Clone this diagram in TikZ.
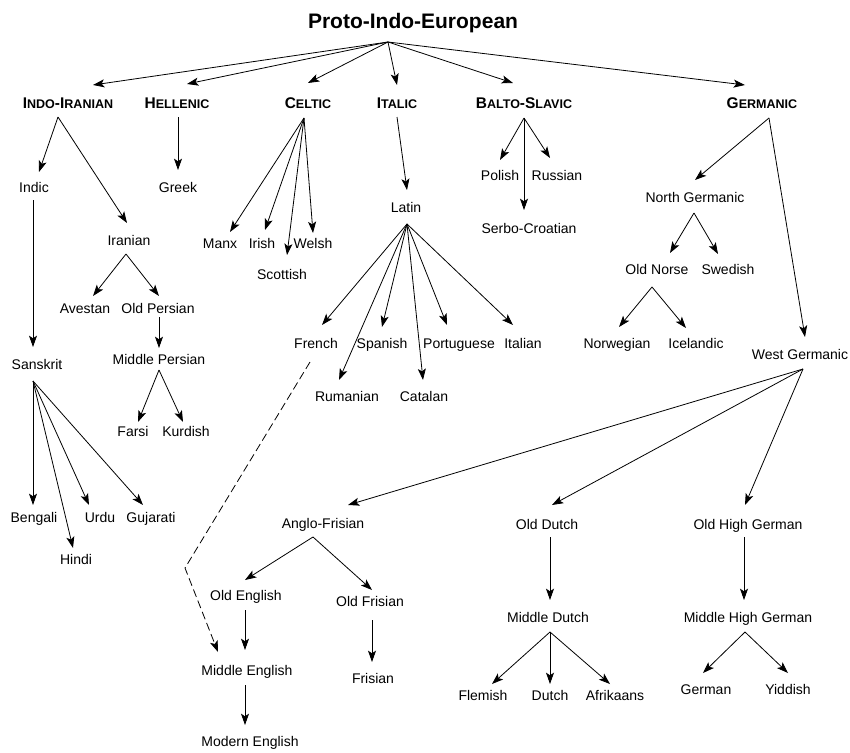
\documentclass[tikz,border=0pt]{standalone}
\usepackage{fontspec}
\setmainfont{Liberation Sans}
\usetikzlibrary{calc,arrows.meta}
\newcommand\hsc[1]{{\fontsize{9.4}{11}\selectfont #1}}
\tikzset{
  lbl/.style={inner sep=0pt, text height=7.5pt, text depth=0pt, font=\fontsize{10.5}{12}\selectfont},
  hd/.style={inner sep=0pt, text height=8.3pt, text depth=0pt, font=\bfseries\fontsize{11.6}{13}\selectfont},
  ttl/.style={inner sep=0pt, text height=11.3pt, text depth=0pt, font=\bfseries\fontsize{15.75}{18}\selectfont},
  arr/.style={line width=0.6pt, -{Stealth[length=8.5pt,width=6pt,inset=2pt]}},
  darr/.style={arr, dash pattern=on 6pt off 3pt}
}
\begin{document}
\begin{tikzpicture}[x=0.75pt,y=-0.75pt]
\useasboundingbox (0,0) rectangle (850,753);
% title
\node[ttl] (pie) at (413,21) {Proto-Indo-European};
% headings
\node[hd] (ii) at (68,103) {I\hsc{NDO}-I\hsc{RANIAN}};
\node[hd] (hel) at (177,103) {H\hsc{ELLENIC}};
\node[hd] (cel) at (308,103) {C\hsc{ELTIC}};
\node[hd] (ita) at (397,103) {I\hsc{TALIC}};
\node[hd] (bs) at (524,103) {B\hsc{ALTO}-S\hsc{LAVIC}};
\node[hd] (ger) at (762,103) {G\hsc{ERMANIC}};
% indo-iranian
\node[lbl] (indic) at (34,187) {Indic};
\node[lbl] (iran) at (129,240) {Iranian};
\node[lbl] (greek) at (178,187) {Greek};
\node[lbl] (aves) at (85,308) {Avestan};
\node[lbl] (oper) at (158,308) {Old Persian};
\node[lbl] (mper) at (159,359) {Middle Persian};
\node[lbl] (farsi) at (133,431) {Farsi};
\node[lbl] (kurd) at (186,431) {Kurdish};
\node[lbl] (sans) at (37,364) {Sanskrit};
\node[lbl] (beng) at (34,517) {Bengali};
\node[lbl] (hindi) at (76,559) {Hindi};
\node[lbl] (urdu) at (100,517) {Urdu};
\node[lbl] (guj) at (151,517) {Gujarati};
% celtic
\node[lbl] (manx) at (220,243) {Manx};
\node[lbl] (irish) at (262,243) {Irish};
\node[lbl] (welsh) at (313,243) {Welsh};
\node[lbl] (scot) at (282,274) {Scottish};
% italic
\node[lbl] (latin) at (406,207) {Latin};
\node[lbl] (french) at (316,343) {French};
\node[lbl] (span) at (382,343) {Spanish};
\node[lbl] (port) at (459,343) {Portuguese};
\node[lbl] (ital) at (523,343) {Italian};
\node[lbl] (rum) at (347,396) {Rumanian};
\node[lbl] (cat) at (424,396) {Catalan};
% balto-slavic
\node[lbl] (pol) at (500,175) {Polish};
\node[lbl] (rus) at (557,175) {Russian};
\node[lbl] (sc) at (529,228) {Serbo-Croatian};
% germanic
\node[lbl] (ng) at (695,197) {North Germanic};
\node[lbl] (on) at (657,269) {Old Norse};
\node[lbl] (swe) at (728,269) {Swedish};
\node[lbl] (nor) at (617,343) {Norwegian};
\node[lbl] (ice) at (696,343) {Icelandic};
\node[lbl] (wg) at (800,354) {West Germanic};
\node[lbl] (af) at (323,523) {Anglo-Frisian};
\node[lbl] (od) at (547,524) {Old Dutch};
\node[lbl] (ohg) at (748,524) {Old High German};
\node[lbl] (oe) at (246,595) {Old English};
\node[lbl] (ofr) at (370,601) {Old Frisian};
\node[lbl] (me) at (247,670) {Middle English};
\node[lbl] (fris) at (373,678) {Frisian};
\node[lbl] (mode) at (250,741) {Modern English};
\node[lbl] (md) at (548,617) {Middle Dutch};
\node[lbl] (flem) at (483,695) {Flemish};
\node[lbl] (dutch) at (550,695) {Dutch};
\node[lbl] (afr) at (615,695) {Afrikaans};
\node[lbl] (mhg) at (748,617) {Middle High German};
\node[lbl] (germ) at (706,689) {German};
\node[lbl] (yid) at (788,689) {Yiddish};
\coordinate (kink) at (185,568);
% connectors: top
\draw[arr] ($(pie)+(-25,21)$) -- ($(ii)+(25,-18)$);
\draw[arr] ($(pie)+(-25,21)$) -- ($(hel)+(10,-19)$);
\draw[arr] ($(pie)+(-25,21)$) -- ($(cel)+(0,-20)$);
\draw[arr] ($(pie)+(-25,21)$) -- ($(ita)+(0,-18)$);
\draw[arr] ($(pie)+(-25,21)$) -- ($(bs)+(-11,-20)$);
\draw[arr] ($(pie)+(-25,21)$) -- ($(ger)+(-17,-18)$);
% indo-iranian
\draw[arr] ($(ii)+(-10,14)$) -- ($(indic)+(5,-15)$);
\draw[arr] ($(ii)+(-10,14)$) -- ($(iran)+(-2,-17)$);
\draw[arr] ($(hel)+(1,14)$) -- ($(greek)+(0,-17)$);
\draw[arr] ($(iran)+(-3,14)$) -- ($(aves)+(8,-12)$);
\draw[arr] ($(iran)+(-3,14)$) -- ($(oper)+(1,-12)$);
\draw[arr] ($(oper)+(1,9)$) -- ($(mper)+(0,-11)$);
\draw[arr] ($(mper)+(0,11)$) -- ($(farsi)+(5,-9)$);
\draw[arr] ($(mper)+(0,11)$) -- ($(kurd)+(-3,-9)$);
\draw[arr] ($(indic)+(-1,13)$) -- ($(sans)+(-4,-17)$);
\draw[arr] ($(sans)+(-4,17)$) -- ($(beng)+(-1,-12)$);
\draw[arr] ($(sans)+(-4,17)$) -- ($(hindi)+(-3,-11)$);
\draw[arr] ($(sans)+(-4,17)$) -- ($(urdu)+(-11,-12)$);
\draw[arr] ($(sans)+(-4,17)$) -- ($(guj)+(-8,-12)$);
% celtic
\draw[arr] ($(cel)+(-4,15)$) -- ($(manx)+(10,-11)$);
\draw[arr] ($(cel)+(-4,15)$) -- ($(irish)+(3,-13)$);
\draw[arr] ($(cel)+(-4,15)$) -- ($(scot)+(5,-19)$);
\draw[arr] ($(cel)+(-4,15)$) -- ($(welsh)+(0,-10)$);
% italic
\draw[arr] ($(ita)+(0,14)$) -- ($(latin)+(1,-17)$);
\draw[arr] ($(latin)+(1,17)$) -- ($(french)+(6,-18)$);
\draw[arr] ($(latin)+(1,17)$) -- ($(rum)+(-8,-16)$);
\draw[arr] ($(latin)+(1,17)$) -- ($(span)+(0,-16)$);
\draw[arr] ($(latin)+(1,17)$) -- ($(cat)+(-1,-16)$);
\draw[arr] ($(latin)+(1,17)$) -- ($(port)+(-12,-18)$);
\draw[arr] ($(latin)+(1,17)$) -- ($(ital)+(-10,-18)$);
% balto-slavic
\draw[arr] ($(bs)+(0,15)$) -- ($(pol)+(0,-15)$);
\draw[arr] ($(bs)+(0,15)$) -- ($(rus)+(-7,-17)$);
\draw[arr] ($(bs)+(0,15)$) -- ($(sc)+(-5,-18)$);
% germanic
\draw[arr] ($(ger)+(7,15)$) -- ($(ng)+(0,-17)$);
\draw[arr] ($(ger)+(7,15)$) -- ($(wg)+(5,-17)$);
\draw[arr] ($(ng)+(-1,16)$) -- ($(on)+(13,-16)$);
\draw[arr] ($(ng)+(-1,16)$) -- ($(swe)+(-10,-15)$);
\draw[arr] ($(on)+(-5,18)$) -- ($(nor)+(2,-16)$);
\draw[arr] ($(on)+(-5,18)$) -- ($(ice)+(-10,-15)$);
\draw[arr] ($(wg)+(3,15)$) -- ($(af)+(25,-18)$);
\draw[arr] ($(wg)+(3,15)$) -- ($(od)+(5,-19)$);
\draw[arr] ($(wg)+(3,15)$) -- ($(ohg)+(-3,-19)$);
\draw[arr] ($(af)+(-10,14)$) -- ($(oe)+(-1,-15)$);
\draw[arr] ($(af)+(-10,14)$) -- ($(ofr)+(2,-11)$);
\draw[arr] ($(oe)+(-1,15)$) -- ($(me)+(-2,-20)$);
\draw[arr] ($(me)+(-2,15)$) -- ($(mode)+(-5,-16)$);
\draw[arr] ($(ofr)+(2,19)$) -- ($(fris)+(-1,-16)$);
\draw[arr] ($(od)+(3,13)$) -- ($(md)+(2,-17)$);
\draw[arr] ($(md)+(2,15)$) -- ($(flem)+(9,-11)$);
\draw[arr] ($(md)+(2,15)$) -- ($(dutch)+(0,-11)$);
\draw[arr] ($(md)+(2,15)$) -- ($(afr)+(-5,-11)$);
\draw[arr] ($(ohg)+(-4,13)$) -- ($(mhg)+(-4,-17)$);
\draw[arr] ($(mhg)+(-3,15)$) -- ($(germ)+(-3,-16)$);
\draw[arr] ($(mhg)+(-3,15)$) -- ($(yid)+(0,-16)$);
% dashed French -> Middle English
\draw[darr] ($(french)+(-6,19)$) -- (kink) -- ($(me)+(-29,-18)$);
\end{tikzpicture}
\end{document}
